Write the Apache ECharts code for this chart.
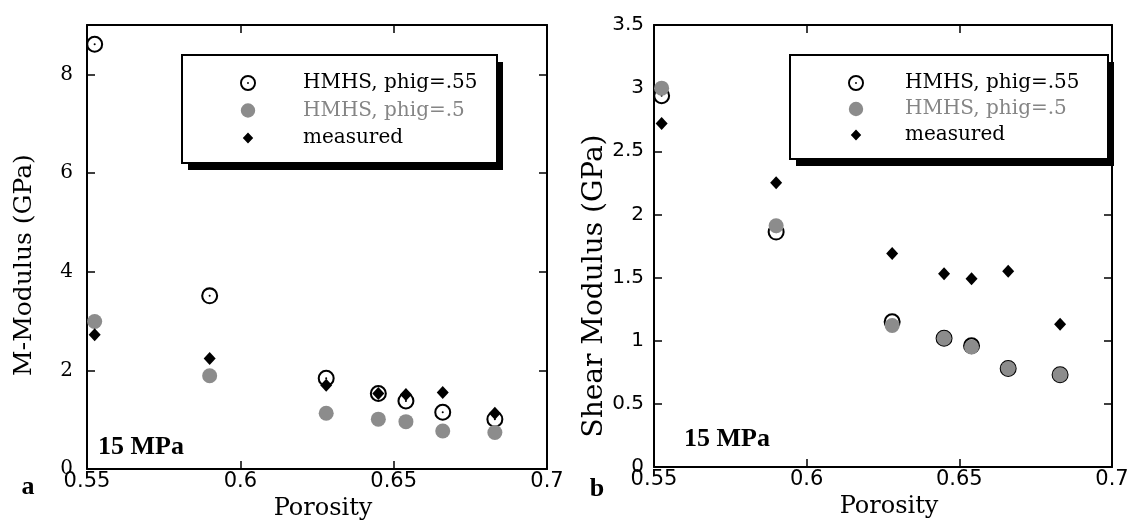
<!DOCTYPE html>
<html>
<head>
<meta charset="utf-8">
<title>M-Modulus and Shear Modulus vs Porosity, 15 MPa</title>
<script src="https://cdn.jsdelivr.net/npm/echarts@6/dist/echarts.min.js"></script>
<style>
  html, body { margin: 0; padding: 0; background: #fff; }
  #chart { width: 1132px; height: 532px; }
</style>
</head>
<body>
<div id="chart"></div>
<script>
// Porosity of each sample (shared by both panels)
const porosity = [0.5525, 0.59, 0.628, 0.645, 0.654, 0.666, 0.683];

// Panel a: M-Modulus (GPa)
const mHmhs55 = [8.61, 3.51, 1.84, 1.53, 1.38, 1.15, 1.01];
const mHmhs5 = [2.99, 1.89, 1.13, 1.01, 0.96, 0.77, 0.74];
const mMeasured = [2.72, 2.24, 1.70, 1.53, 1.51, 1.55, 1.13];

// Panel b: Shear Modulus (GPa)
const gHmhs55 = [2.94, 1.86, 1.15, 1.02, 0.96, 0.78, 0.73];
const gHmhs5 = [3.00, 1.91, 1.12, 1.02, 0.95, 0.78, 0.73];
const gMeasured = [2.72, 2.25, 1.69, 1.53, 1.49, 1.55, 1.13];

const seriesNames = ['HMHS, phig=.55', 'HMHS, phig=.5', 'measured'];

// Open circle with a centre dot
const RING = 'path://M0 10A10 10 0 1 1 20 10A10 10 0 1 1 0 10ZM2.4 10A7.6 7.6 0 1 0 17.6 10A7.6 7.6 0 1 0 2.4 10ZM8.8 10A1.2 1.2 0 1 1 11.2 10A1.2 1.2 0 1 1 8.8 10Z';
// Legend icons padded inside a 20x20 box so they keep their relative size
const GREY_ICON = 'path://M0 0L0.01 0M20 20L19.99 20M1 10A9 9 0 1 1 19 10A9 9 0 1 1 1 10Z';
const DIAMOND_ICON = 'path://M0 0L0.01 0M20 20L19.99 20M10 3L16.5 10L10 17L3.5 10Z';

const GREY = '#8c8c8c';
const SANS = '"DejaVu Sans", sans-serif';
const SERIF = '"DejaVu Serif", serif';
const BOLD_SERIF = 'bold 26px "Liberation Serif", serif';

const pairs = vals => porosity.map((p, i) => [p, vals[i]]);

function xAxes(gridIndex) {
  const common = {
    gridIndex, type: 'value', min: 0.55, max: 0.7, interval: 0.05,
    axisLine: { onZero: false, lineStyle: { color: '#000', width: 2 } },
    axisTick: { inside: true, length: 8, lineStyle: { color: '#000', width: 1.5 } },
    splitLine: { show: false }
  };
  return [
    Object.assign({}, common, {
      position: 'bottom',
      axisLabel: { margin: 2, color: '#000', fontFamily: SANS, fontSize: 21 },
      name: 'Porosity', nameLocation: 'middle', nameGap: 13,
      nameTextStyle: { color: '#000', fontFamily: SERIF, fontSize: 24, padding: [0, 0, 0, 12] }
    }),
    Object.assign({}, common, { position: 'top', axisLabel: { show: false } })
  ];
}

function yAxes(gridIndex, max, step, name, labelFont, margin, nameGap, nameSize, namePad) {
  const common = {
    gridIndex, type: 'value', min: 0, max: max, interval: step,
    axisLine: { onZero: false, lineStyle: { color: '#000', width: 2 } },
    axisTick: { inside: true, length: 8, lineStyle: { color: '#000', width: 1.5 } },
    splitLine: { show: false }
  };
  return [
    Object.assign({}, common, {
      position: 'left',
      axisLabel: { margin: margin, color: '#000', fontFamily: labelFont, fontSize: 20, showMaxLabel: max % step === 0 },
      name: name, nameLocation: 'middle', nameGap: nameGap, nameRotate: 90,
      nameTextStyle: { color: '#000', fontFamily: SERIF, fontSize: nameSize, padding: namePad }
    }),
    Object.assign({}, common, { position: 'right', axisLabel: { show: false } })
  ];
}

function panelSeries(xIdx, yIdx, v55, v5, meas) {
  return [
    { name: seriesNames[0], type: 'scatter', xAxisIndex: xIdx, yAxisIndex: yIdx,
      symbol: RING, symbolSize: 17, itemStyle: { color: '#000', opacity: 1 }, data: pairs(v55) },
    { name: seriesNames[1], type: 'scatter', xAxisIndex: xIdx, yAxisIndex: yIdx,
      symbol: 'circle', symbolSize: 15, itemStyle: { color: GREY, opacity: 1 }, data: pairs(v5) },
    { name: seriesNames[2], type: 'scatter', xAxisIndex: xIdx, yAxisIndex: yIdx,
      symbol: 'diamond', symbolSize: [12, 13], itemStyle: { color: '#000', opacity: 1 }, data: pairs(meas) }
  ];
}

// Legend entries; the framed, drop-shadowed box behind them is drawn as graphic rects
function legendEntries(left, textIndent, gap) {
  return {
    left: left, top: 73, orient: 'vertical', selectedMode: false, z: 6,
    itemWidth: 16, itemHeight: 16, itemGap: gap, symbolKeepAspect: true,
    padding: 0, backgroundColor: 'transparent', borderWidth: 0,
    textStyle: { color: '#000', fontFamily: SERIF, fontSize: 20, lineHeight: 20, padding: [0, 0, 0, textIndent] },
    itemStyle: { borderWidth: 0, opacity: 1 },
    data: [
      { name: seriesNames[0], icon: RING, itemStyle: { color: '#000', borderWidth: 0, opacity: 1 } },
      { name: seriesNames[1], icon: GREY_ICON, itemStyle: { color: GREY, borderWidth: 0, opacity: 1 },
        textStyle: { color: '#858585' } },
      { name: seriesNames[2], icon: DIAMOND_ICON, itemStyle: { color: '#000', borderWidth: 0, opacity: 1 } }
    ]
  };
}

function legendFrame(x, y, w, h) {
  return [
    { type: 'rect', z: 4, silent: true, shape: { x: x + 6, y: y + 7, width: w, height: h },
      style: { fill: '#000' } },
    { type: 'rect', z: 5, silent: true, shape: { x: x, y: y, width: w, height: h },
      style: { fill: '#fff', stroke: '#000', lineWidth: 2 } }
  ];
}

const chart = echarts.init(document.getElementById('chart'), null, { renderer: 'canvas' });

chart.setOption({
  animation: false,
  backgroundColor: '#fff',
  textStyle: { fontFamily: SERIF },
  grid: [
    { left: 87, top: 25, width: 460, height: 444, outerBoundsMode: 'none', containLabel: false },
    { left: 654, top: 25, width: 458, height: 442, outerBoundsMode: 'none', containLabel: false }
  ],
  xAxis: xAxes(0).concat(xAxes(1)),
  yAxis: yAxes(0, 9, 2, 'M-Modulus (GPa)', SERIF, 14, 50, 25, [0, 36, 0, 0])
    .concat(yAxes(1, 3.5, 0.5, 'Shear Modulus (GPa)', SANS, 10, 44, 28, [0, 80, 0, 0])),
  legend: [
    legendEntries(240, 42, 7.5),
    legendEntries(848, 36, 6)
  ],
  series: panelSeries(0, 0, mHmhs55, mHmhs5, mMeasured)
    .concat(panelSeries(2, 2, gHmhs55, gHmhs5, gMeasured)),
  graphic: legendFrame(182, 55, 315, 108).concat(legendFrame(790, 55, 318, 104)).concat([
    { type: 'text', x: 98, y: 447, style: { text: '15 MPa', font: BOLD_SERIF, fill: '#000', textAlign: 'left', textVerticalAlign: 'middle' } },
    { type: 'text', x: 684, y: 439, style: { text: '15 MPa', font: BOLD_SERIF, fill: '#000', textAlign: 'left', textVerticalAlign: 'middle' } },
    { type: 'text', x: 28, y: 487, style: { text: 'a', font: BOLD_SERIF, fill: '#000', textAlign: 'center', textVerticalAlign: 'middle' } },
    { type: 'text', x: 597, y: 489, style: { text: 'b', font: BOLD_SERIF, fill: '#000', textAlign: 'center', textVerticalAlign: 'middle' } }
  ])
});
</script>
</body>
</html>
